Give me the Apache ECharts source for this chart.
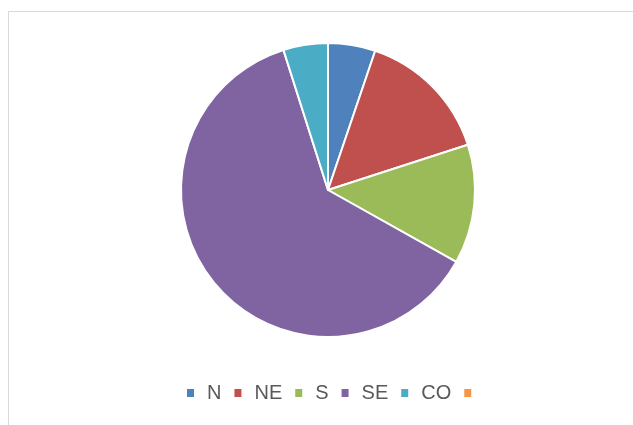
<!DOCTYPE html>
<html>
<head>
<meta charset="utf-8">
<script src="https://cdn.jsdelivr.net/npm/echarts@6/dist/echarts.min.js"></script>
<style>
  html, body { margin: 0; padding: 0; background: #fff; }
  #chart { width: 633px; height: 425px; }
</style>
</head>
<body>
<div id="chart"></div>
<script>
// categories and values (shares)
const regions = ["N", "NE", "S", "SE", "CO", ""];
const shares = [5.2, 14.8, 13.1, 61.9, 4.9, 0];
const colors = ["#4f81bd", "#c0504d", "#9bbb59", "#8064a2", "#4bacc6", "#f79646"];

// the last category has no label; a blank keeps its legend entry
const names = regions.map((r) => (r === "" ? " " : r));

const chart = echarts.init(document.getElementById("chart"));
chart.setOption({
  animation: false,
  color: colors,
  graphic: [
    {
      type: "rect",
      shape: { x: 8.5, y: 11.5, width: 700, height: 500 },
      style: { fill: "none", stroke: "#d9d9d9", lineWidth: 1 },
      silent: true
    }
  ],
  legend: {
    left: 187,
    top: 383,
    padding: 0,
    itemWidth: 7,
    itemHeight: 8,
    itemGap: 13,
    icon: "rect",
    data: names,
    itemStyle: { borderWidth: 0 },
    textStyle: {
      fontFamily: "Liberation Sans",
      fontSize: 20,
      color: "#595959",
      padding: [0, 0, 0, 8]
    }
  },
  series: [
    {
      type: "pie",
      center: [328, 190],
      radius: 147,
      startAngle: 90,
      clockwise: true,
      label: { show: false },
      labelLine: { show: false },
      itemStyle: { borderColor: "#fff", borderWidth: 2 },
      data: names.map((r, i) => ({ name: r, value: shares[i] }))
    }
  ]
});
</script>
</body>
</html>
